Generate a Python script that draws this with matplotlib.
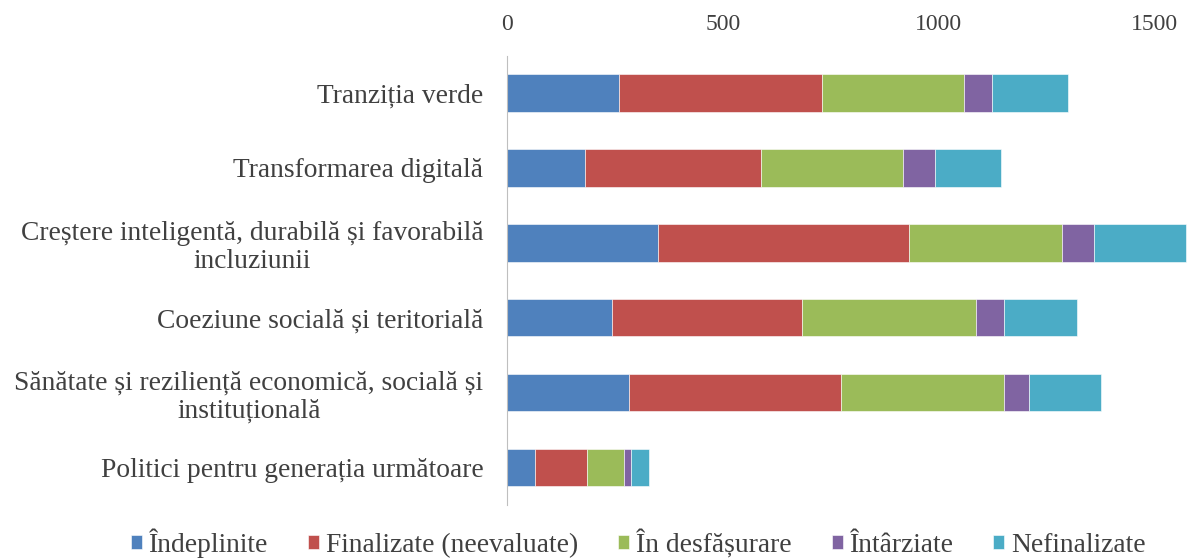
import numpy as np
import matplotlib
matplotlib.use('Agg')
import matplotlib.pyplot as plt

plt.rcParams['font.family'] = ['Liberation Serif', 'DejaVu Serif']

# categories, top to bottom as in the chart
categories = ['Tranziția verde',
              'Transformarea digitală',
              'Creștere inteligentă, durabilă și favorabilă\nincluziunii',
              'Coeziune socială și teritorială',
              'Sănătate și reziliență economică, socială și\ninstituțională',
              'Politici pentru generația următoare']

series_names = ['Îndeplinite', 'Finalizate (neevaluate)', 'În desfășurare',
                'Întârziate', 'Nefinalizate']

indeplinite = [259, 181, 351, 243, 282, 65]
finalizate = [471, 408, 580, 441, 493, 121]
desfasurare = [330, 329, 355, 403, 377, 86]
intarziate = [65, 75, 74, 65, 57, 15]
nefinalizate = [174, 151, 213, 168, 168, 42]

colors = ['#4F81BD', '#C0504D', '#9BBB59', '#8064A2', '#4BACC6']

series = [indeplinite, finalizate, desfasurare, intarziate, nefinalizate]

fig = plt.figure(figsize=(11.89, 5.58), dpi=100)
ax = fig.add_axes([0.4264, 0.095, 0.5716, 0.8055])

y = np.arange(len(categories))
left = np.zeros(len(categories))
for name, vals, col in zip(series_names, series, colors):
    ax.barh(y, vals, left=left, height=0.5, color=col, label=name,
            edgecolor='white', linewidth=0.4)
    left += np.array(vals)

ax.set_xlim(0, 1575)
ax.set_ylim(len(categories) - 0.5, -0.5)
ax.set_yticks(y)
ax.set_yticklabels(categories, ha='right', multialignment='center',
                   fontsize=19.8, color='#404040', linespacing=1.15)
ax.tick_params(axis='y', length=0, pad=17)
ax.set_xticks([0, 500, 1000, 1500])
ax.xaxis.tick_top()
ax.tick_params(axis='x', length=0, labelsize=17, labelcolor='#404040', pad=14.5)

for s in ['top', 'right', 'bottom']:
    ax.spines[s].set_visible(False)
ax.spines['left'].set_color('#BFBFBF')

fig.legend(loc='center', bbox_to_anchor=(0.537, 0.027), ncol=5,
           frameon=False, fontsize=19.8, handlelength=0.4, handleheight=0.4,
           handletextpad=0.25, columnspacing=1.45, labelcolor='#404040',
           borderpad=0, borderaxespad=0)

fig.savefig('out.png', dpi=100)
